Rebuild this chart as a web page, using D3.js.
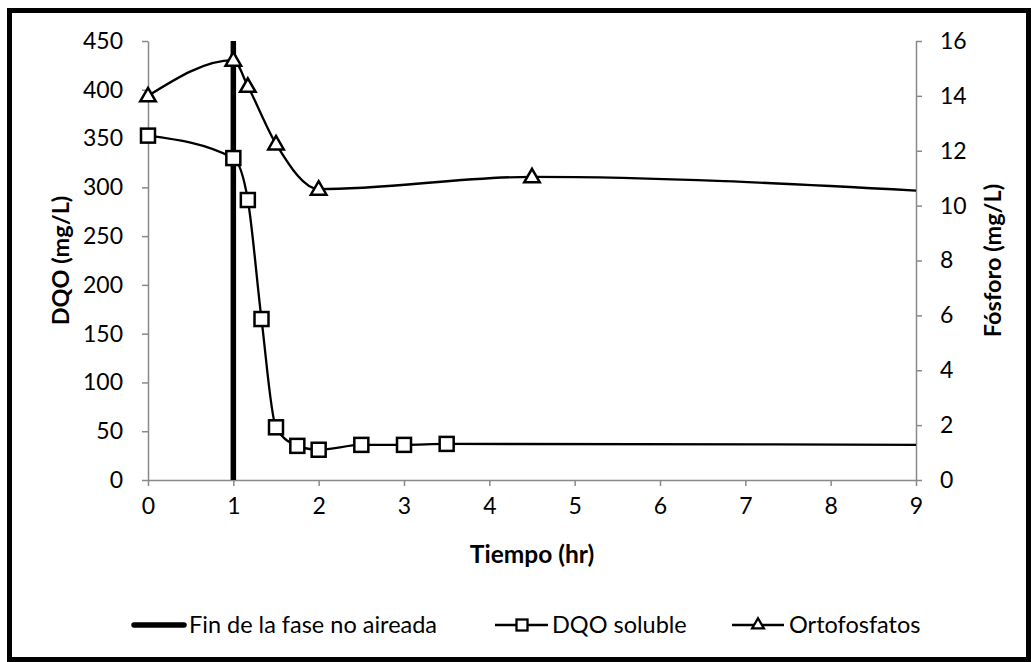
<!DOCTYPE html>
<html>
<head>
<meta charset="utf-8">
<script src="https://cdn.jsdelivr.net/npm/d3@7"></script>
<style>
  body { margin: 0; background: #fff; }
  text { font-family: Lato, "Open Sans", sans-serif; fill: #000; }
</style>
</head>
<body>
<div id="chart"></div>
<script>
// time (hr) for each series
var dqoTime = [0, 1, 1.17, 1.33, 1.5, 1.75, 2, 2.5, 3, 3.5, 9];
var dqoValues = [353, 330, 287, 165, 54, 35, 31, 36, 36, 37, 36];

var ortoTime = [0, 1, 1.17, 1.5, 2, 4.5, 9];
var ortoValues = [14.0, 15.3, 14.35, 12.25, 10.6, 11.05, 10.55];

// end of the non-aerated phase
var finFase = 1;

var xTicks = [0, 1, 2, 3, 4, 5, 6, 7, 8, 9];
var leftTicks = [0, 50, 100, 150, 200, 250, 300, 350, 400, 450];
var rightTicks = [0, 2, 4, 6, 8, 10, 12, 14, 16];

var legendLabels = ["Fin de la fase no aireada", "DQO soluble", "Ortofosfatos"];

var W = 1031, H = 662;
var margin = {top: 41, right: 115, bottom: 182, left: 148},
    width = W - margin.left - margin.right,
    height = H - margin.top - margin.bottom;

var svg = d3.select("#chart")
  .append("svg")
    .attr("width", W)
    .attr("height", H);

// outer frame
svg.append("rect")
  .attr("x", 9.5).attr("y", 10.5)
  .attr("width", W - 9.5 - 2.5)
  .attr("height", H - 10.5 - 2.5)
  .attr("fill", "none")
  .attr("stroke", "#000")
  .attr("stroke-width", 5);

var g = svg.append("g")
  .attr("transform", "translate(" + margin.left + "," + margin.top + ")");

var x = d3.scaleLinear().domain([0, 9]).range([0, width]);
var yL = d3.scaleLinear().domain([0, 450]).range([height, 0]);
var yR = d3.scaleLinear().domain([0, 16]).range([height, 0]);

var axisColor = "#898989";
function styleAxis(sel) {
  sel.select(".domain").attr("stroke", axisColor).attr("stroke-width", 1.5);
  sel.selectAll(".tick line").attr("stroke", axisColor).attr("stroke-width", 1.5);
  sel.selectAll(".tick text").style("font-size", "23px").attr("fill", "#000");
}

// X axis
var gx = g.append("g")
  .attr("transform", "translate(0," + height + ")")
  .call(d3.axisBottom(x).tickValues(xTicks).tickSize(6).tickSizeOuter(0).tickPadding(12));
styleAxis(gx);

// left axis
var gl = g.append("g")
  .call(d3.axisLeft(yL).tickValues(leftTicks).tickSize(6).tickSizeOuter(0).tickPadding(19));
styleAxis(gl);

// right axis
var gr = g.append("g")
  .attr("transform", "translate(" + width + ",0)")
  .call(d3.axisRight(yR).tickValues(rightTicks).tickSize(6).tickSizeOuter(0).tickPadding(18));
styleAxis(gr);

// axis titles
g.append("text")
  .attr("x", width / 2 + 0).attr("y", height + 83)
  .attr("text-anchor", "middle")
  .style("font-size", "24.5px").style("font-weight", "bold")
  .text("Tiempo (hr)");

g.append("text")
  .attr("transform", "translate(" + (-79) + "," + (height / 2) + ") rotate(-90)")
  .attr("text-anchor", "middle")
  .style("font-size", "23.5px").style("font-weight", "bold")
  .text("DQO (mg/L)");

g.append("text")
  .attr("transform", "translate(" + (width + 85) + "," + (height / 2) + ") rotate(-90)")
  .attr("text-anchor", "middle")
  .style("font-size", "23.5px").style("font-weight", "bold")
  .text("Fósforo (mg/L)");

// vertical line: end of non-aerated phase
g.append("line")
  .attr("x1", x(finFase)).attr("x2", x(finFase))
  .attr("y1", yL(450)).attr("y2", yL(0))
  .attr("stroke", "#000")
  .attr("stroke-width", 5.5);

var dqoData = dqoTime.map((t, i) => ({t: t, v: dqoValues[i]}));
var ortoData = ortoTime.map((t, i) => ({t: t, v: ortoValues[i]}));

var curve = d3.curveMonotoneX;

g.append("path")
  .datum(dqoData)
  .attr("fill", "none")
  .attr("stroke", "#000")
  .attr("stroke-width", 2.3)
  .attr("d", d3.line().x(d => x(d.t)).y(d => yL(d.v)).curve(curve));

g.append("path")
  .datum(ortoData)
  .attr("fill", "none")
  .attr("stroke", "#000")
  .attr("stroke-width", 2.3)
  .attr("d", d3.line().x(d => x(d.t)).y(d => yR(d.v)).curve(curve));

var sq = 14;
var tri = d3.symbol().type(d3.symbolTriangle).size(105);

// markers (the last point sits on the plot edge, no marker there)
g.append("g")
  .selectAll("rect")
  .data(dqoData.filter(d => d.t < 9))
  .enter()
  .append("rect")
    .attr("x", d => x(d.t) - sq / 2)
    .attr("y", d => yL(d.v) - sq / 2)
    .attr("width", sq).attr("height", sq)
    .attr("fill", "#fff")
    .attr("stroke", "#000")
    .attr("stroke-width", 2.5);

g.append("g")
  .selectAll("path")
  .data(ortoData.filter(d => d.t < 9))
  .enter()
  .append("path")
    .attr("transform", d => "translate(" + x(d.t) + "," + (yR(d.v) + 1) + ")")
    .attr("d", tri)
    .attr("fill", "#fff")
    .attr("stroke", "#000")
    .attr("stroke-width", 2.5);

// legend
var ly = 625;
var lg = svg.append("g");

lg.append("line")
  .attr("x1", 134).attr("x2", 184).attr("y1", ly).attr("y2", ly)
  .attr("stroke", "#000").attr("stroke-width", 5.5).attr("stroke-linecap", "round");
lg.append("text").attr("x", 189).attr("y", ly).attr("dy", "0.35em")
  .style("font-size", "23.5px").text(legendLabels[0]);

lg.append("line")
  .attr("x1", 495).attr("x2", 548).attr("y1", ly).attr("y2", ly)
  .attr("stroke", "#000").attr("stroke-width", 2.3);
lg.append("rect")
  .attr("x", 522 - 5.5).attr("y", ly - 5.5).attr("width", 11).attr("height", 11)
  .attr("fill", "#fff").attr("stroke", "#000").attr("stroke-width", 2.3);
lg.append("text").attr("x", 552).attr("y", ly).attr("dy", "0.35em")
  .style("font-size", "23.5px").text(legendLabels[1]);

lg.append("line")
  .attr("x1", 732).attr("x2", 784).attr("y1", ly).attr("y2", ly)
  .attr("stroke", "#000").attr("stroke-width", 2.3);
lg.append("path")
  .attr("transform", "translate(758," + (ly) + ")")
  .attr("d", d3.symbol().type(d3.symbolTriangle).size(60))
  .attr("fill", "#fff").attr("stroke", "#000").attr("stroke-width", 2.3);
lg.append("text").attr("x", 789).attr("y", ly).attr("dy", "0.35em")
  .style("font-size", "23.5px").text(legendLabels[2]);
</script>
</body>
</html>
